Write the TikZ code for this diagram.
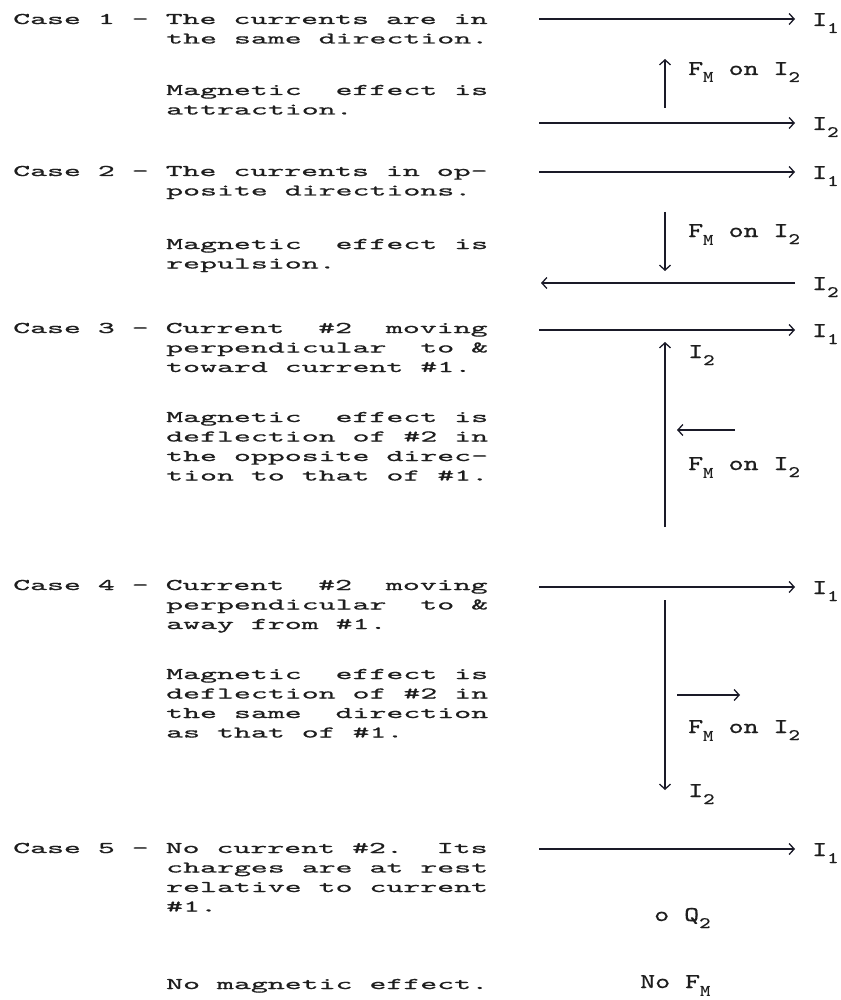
\documentclass[tikz,border=0pt]{standalone}
\usepackage{fontspec}
\usetikzlibrary{arrows.meta}
\newfontfamily\lmonofam{lmmono10-regular.otf}[FakeStretch=1.98,FakeBold=0.7]
\newfontfamily\rmonofam{lmmono10-regular.otf}[FakeStretch=1.36,FakeBold=0.7]
\newfontfamily\rboldfam{lmmonolt10-bold.otf}[FakeStretch=1.2]
\newcommand\lmono{\lmonofam\fontsize{16.3}{19.5}\selectfont}
\newcommand\rmono{\rmonofam\fontsize{21}{26}\selectfont}
\newcommand\rsub[1]{\raisebox{-7pt}{\fontsize{16}{16}\selectfont #1}}
\newcommand\rsubM{\raisebox{-8pt}{\rboldfam\fontsize{16.5}{16.5}\selectfont M}}
\definecolor{ink}{HTML}{1E1E1E}
\definecolor{wire}{HTML}{1A1A28}
\tikzset{
  lt/.style={inner sep=0pt, anchor=base west, font=\lmono, text=ink},
  rt/.style={inner sep=0pt, anchor=base west, font=\rmono, text=ink},
  cur/.style={line width=1.3pt, draw=wire, -{Straight Barb[length=5pt,width=11pt]}},
}
\begin{document}
\begin{tikzpicture}[x=1pt,y=-1pt]
\useasboundingbox[fill=white] (0,0) rectangle (840,1000);
% ---------- left column text ----------
% Case 1
\node[lt] (c1a) at (13,24)    {Case 1 - The currents are in};
\node[lt] (c1b) at (166,43.5) {the same direction.};
\node[lt] (c1c) at (166,95)   {Magnetic~~effect is};
\node[lt] (c1d) at (166,114.5){attraction.};
% Case 2
\node[lt] (c2a) at (13,176)   {Case 2 - The currents in op-};
\node[lt] (c2b) at (166,195.5){posite directions.};
\node[lt] (c2c) at (166,249)  {Magnetic~~effect is};
\node[lt] (c2d) at (166,268.5){repulsion.};
% Case 3
\node[lt] (c3a) at (13,333)   {Case 3 - Current~~\#2~~moving};
\node[lt] (c3b) at (166,352.5){perpendicular~~to \&};
\node[lt] (c3c) at (166,372)  {toward current \#1.};
\node[lt] (c3d) at (166,422)  {Magnetic~~effect is};
\node[lt] (c3e) at (166,441.5){deflection of \#2 in};
\node[lt] (c3f) at (166,461)  {the opposite direc-};
\node[lt] (c3g) at (166,480.5){tion to that of \#1.};
% Case 4
\node[lt] (c4a) at (13,590)   {Case 4 - Current~~\#2~~moving};
\node[lt] (c4b) at (166,609.5){perpendicular~~to \&};
\node[lt] (c4c) at (166,629)  {away from \#1.};
\node[lt] (c4d) at (166,679)  {Magnetic~~effect is};
\node[lt] (c4e) at (166,698.5){deflection of \#2 in};
\node[lt] (c4f) at (166,718)  {the same~~direction};
\node[lt] (c4g) at (166,737.5){as that of \#1.};
% Case 5
\node[lt] (c5a) at (13,853)   {Case 5 - No current \#2.~~Its};
\node[lt] (c5b) at (166,872.5){charges are at rest};
\node[lt] (c5c) at (166,892)  {relative to current};
\node[lt] (c5d) at (166,911.5){\#1.};
\node[lt] (c5e) at (166,989)  {No magnetic effect.};
% ---------- right column ----------
% Case 1
\coordinate (p1s) at (539,19);  \coordinate (p1e) at (795,19);
\draw[cur] (p1s) -- (p1e);
\node[rt] (l1a) at (812,26) {I\rsub{1}};
\coordinate (f1s) at (665,108); \coordinate (f1e) at (665,59);
\draw[cur] (f1s) -- (f1e);
\node[rt] (l1f) at (688,75) {F\rsubM{} on I\rsub{2}};
\coordinate (q1s) at (539,123); \coordinate (q1e) at (795,123);
\draw[cur] (q1s) -- (q1e);
\node[rt] (l1b) at (812,130) {I\rsub{2}};
% Case 2
\coordinate (p2s) at (539,172); \coordinate (p2e) at (795,172);
\draw[cur] (p2s) -- (p2e);
\node[rt] (l2a) at (812,179) {I\rsub{1}};
\coordinate (f2s) at (665,212); \coordinate (f2e) at (665,271);
\draw[cur] (f2s) -- (f2e);
\node[rt] (l2f) at (688,237) {F\rsubM{} on I\rsub{2}};
\coordinate (q2s) at (795,283); \coordinate (q2e) at (541,283);
\draw[cur] (q2s) -- (q2e);
\node[rt] (l2b) at (812,290) {I\rsub{2}};
% Case 3
\coordinate (p3s) at (539,330); \coordinate (p3e) at (795,330);
\draw[cur] (p3s) -- (p3e);
\node[rt] (l3a) at (812,337) {I\rsub{1}};
\coordinate (v3s) at (665,527); \coordinate (v3e) at (665,342);
\draw[cur] (v3s) -- (v3e);
\node[rt] (l3i) at (688,358) {I\rsub{2}};
\coordinate (f3s) at (735,430); \coordinate (f3e) at (677,430);
\draw[cur] (f3s) -- (f3e);
\node[rt] (l3f) at (688,470) {F\rsubM{} on I\rsub{2}};
% Case 4
\coordinate (p4s) at (539,587); \coordinate (p4e) at (795,587);
\draw[cur] (p4s) -- (p4e);
\node[rt] (l4a) at (812,594) {I\rsub{1}};
\coordinate (v4s) at (665,600); \coordinate (v4e) at (665,790);
\draw[cur] (v4s) -- (v4e);
\coordinate (f4s) at (677,695); \coordinate (f4e) at (740,695);
\draw[cur] (f4s) -- (f4e);
\node[rt] (l4f) at (688,733) {F\rsubM{} on I\rsub{2}};
\node[rt] (l4i) at (688,797) {I\rsub{2}};
% Case 5
\coordinate (p5s) at (539,849); \coordinate (p5e) at (795,849);
\draw[cur] (p5s) -- (p5e);
\node[rt] (l5a) at (812,856) {I\rsub{1}};
\node[rt] (l5q) at (654,921) {o Q\rsub{2}};
\node[rt] (l5n) at (640,988) {No F\rsubM};
\end{tikzpicture}
\end{document}
